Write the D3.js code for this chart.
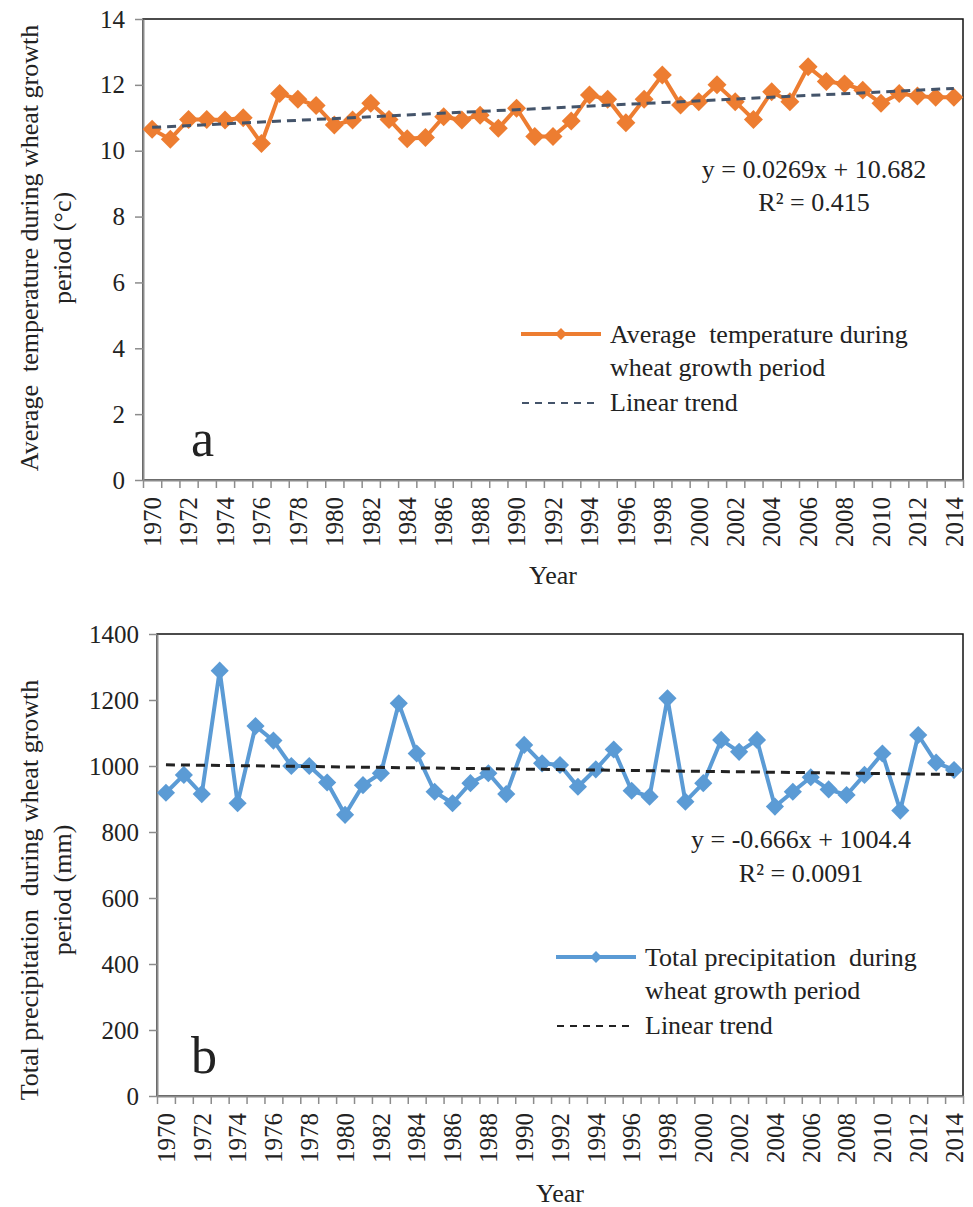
<!DOCTYPE html>
<html>
<head>
<meta charset="utf-8">
<script src="https://cdn.jsdelivr.net/npm/d3@7"></script>
<style>
  body { margin: 0; background: #fff; }
  svg text { font-family: "Liberation Serif", "Times New Roman", serif; fill: #222; }
</style>
</head>
<body>
<div id="chart"></div>
<script>
const FONT = '"Liberation Serif", "Times New Roman", serif';

// categories
const years = [1970, 1971, 1972, 1973, 1974, 1975, 1976, 1977, 1978, 1979,
               1980, 1981, 1982, 1983, 1984, 1985, 1986, 1987, 1988, 1989,
               1990, 1991, 1992, 1993, 1994, 1995, 1996, 1997, 1998, 1999,
               2000, 2001, 2002, 2003, 2004, 2005, 2006, 2007, 2008, 2009,
               2010, 2011, 2012, 2013, 2014];

// series
const temperature = [10.65, 10.35, 10.95, 10.95, 10.93, 11.0, 10.22, 11.74, 11.56, 11.37,
                     10.78, 10.93, 11.44, 10.95, 10.36, 10.4, 11.03, 10.93, 11.08, 10.68,
                     11.29, 10.43, 10.43, 10.9, 11.69, 11.56, 10.85, 11.56, 12.3, 11.39,
                     11.49, 12.0, 11.49, 10.95, 11.79, 11.49, 12.55, 12.1, 12.03, 11.84,
                     11.44, 11.74, 11.66, 11.62, 11.62];

const precipitation = [919, 973, 915, 1289, 887, 1121, 1077, 1000, 1000, 950,
                       852, 942, 978, 1190, 1038, 922, 887, 948, 978, 915,
                       1064, 1008, 1003, 937, 990, 1050, 925, 907, 1205, 892,
                       948, 1079, 1043, 1079, 877, 922, 966, 929, 912, 973,
                       1038, 865, 1094, 1010, 988];

// trend equations shown on the chart (x = 1..45)
const tempTrend = { slope: 0.0269, intercept: 10.682 };
const precTrend = { slope: -0.666, intercept: 1004.4 };

// tick labels
const tempTicks = [0, 2, 4, 6, 8, 10, 12, 14];
const precTicks = [0, 200, 400, 600, 800, 1000, 1200, 1400];
const labelYears = years.filter(d => d % 2 === 0);

const svg = d3.select("#chart").append("svg")
    .attr("width", 973)
    .attr("height", 1207)
    .attr("font-family", FONT);

function drawPanel(opt) {
    const g = svg.append("g");
    const { left, right, top, bottom } = opt;

    const x = d3.scaleBand().domain(years).range([left, right]).padding(0);
    const xEdge = d3.scaleLinear().domain([0, years.length]).range([left, right]);
    const y = d3.scaleLinear().domain(opt.domain).range([bottom, top]);

    // plot border (black top/right)
    g.append("rect")
        .attr("x", left).attr("y", top)
        .attr("width", right - left).attr("height", bottom - top)
        .attr("fill", "none")
        .attr("stroke", "#111")
        .attr("stroke-width", 1.5);

    // y axis
    const yAxis = g.append("g")
        .attr("transform", `translate(${left},0)`)
        .call(d3.axisLeft(y).tickValues(opt.ticks).tickFormat(d3.format("d"))
            .tickSize(8).tickPadding(10).tickSizeOuter(0));
    yAxis.attr("font-family", FONT);
    yAxis.select(".domain").attr("stroke", "#8c8c8c").attr("stroke-width", 2);
    yAxis.selectAll(".tick line").attr("stroke", "#8c8c8c").attr("stroke-width", 1.5);
    yAxis.selectAll("text")
        .style("font-family", FONT)
        .style("font-size", "25px")
        .attr("fill", "#222");

    // x tick marks at category boundaries
    const xTicks = g.append("g")
        .attr("transform", `translate(0,${bottom})`)
        .call(d3.axisBottom(xEdge).tickValues(d3.range(0, years.length + 1))
            .tickSize(8).tickFormat("").tickSizeOuter(0));
    xTicks.select(".domain").attr("stroke", "#8c8c8c").attr("stroke-width", 2);
    xTicks.selectAll(".tick line").attr("stroke", "#8c8c8c").attr("stroke-width", 1.5);

    // x labels (every other year, rotated)
    const xAxis = g.append("g")
        .attr("transform", `translate(0,${bottom})`)
        .call(d3.axisBottom(x).tickValues(labelYears).tickFormat(d3.format("d")).tickSize(0));
    xAxis.attr("font-family", FONT);
    xAxis.select(".domain").remove();
    xAxis.selectAll("text")
        .style("font-family", FONT)
        .style("font-size", "25px")
        .attr("fill", "#222")
        .attr("transform", "rotate(-90)")
        .attr("text-anchor", "end")
        .attr("x", -17)
        .attr("y", 0)
        .attr("dy", "0.35em");

    // axis titles
    g.append("text")
        .attr("x", (left + right) / 2)
        .attr("y", opt.yearY)
        .attr("text-anchor", "middle")
        .style("font-size", "26px")
        .text("Year");

    const cy = opt.titleCenter;
    opt.yTitle.forEach((line, i) => {
        g.append("text")
            .attr("transform", `translate(${opt.titleX[i]},${cy}) rotate(-90)`)
            .attr("text-anchor", "middle")
            .style("font-size", "26px")
            .style("white-space", "pre")
            .text(line);
    });

    const n = years.length;
    const cx = d => x(d) + x.bandwidth() / 2;

    // series line
    const line = d3.line()
        .x((d, i) => cx(years[i]))
        .y(d => y(d));
    g.append("path")
        .datum(opt.values)
        .attr("fill", "none")
        .attr("stroke", opt.color)
        .attr("stroke-width", 4)
        .attr("stroke-linejoin", "round")
        .attr("d", line);

    g.selectAll(".pt")
        .data(opt.values)
        .join("path")
        .attr("class", "pt")
        .attr("d", d3.symbol(d3.symbolSquare).size(opt.markerSize))
        .attr("fill", opt.color)
        .attr("transform", (d, i) => `translate(${cx(years[i])},${y(d)}) rotate(45)`);

    // trend line from the fitted equation
    const trendPts = [
        [years[0], opt.trend.slope * 1 + opt.trend.intercept],
        [years[n - 1], opt.trend.slope * n + opt.trend.intercept]
    ];
    g.append("path")
        .datum(trendPts)
        .attr("fill", "none")
        .attr("stroke", opt.trendColor)
        .attr("stroke-width", 3)
        .attr("stroke-dasharray", "9,6")
        .attr("d", d3.line().x(d => cx(d[0])).y(d => y(d[1])));

    // equation
    opt.equation.forEach((t, i) => {
        g.append("text")
            .attr("x", opt.eqX)
            .attr("y", opt.eqY[i])
            .attr("text-anchor", "middle")
            .style("font-size", "26px")
            .style("white-space", "pre")
            .text(t);
    });

    // panel letter
    g.append("text")
        .attr("x", 191)
        .attr("y", opt.letterY)
        .style("font-size", "52px")
        .text(opt.letter);

    // legend
    const lg = g.append("g").attr("transform", `translate(${opt.legendX},${opt.legendY})`);
    lg.append("line")
        .attr("x1", 0).attr("x2", 80).attr("y1", 0).attr("y2", 0)
        .attr("stroke", opt.color).attr("stroke-width", 4);
    lg.append("path")
        .attr("d", d3.symbol(d3.symbolSquare).size(70))
        .attr("fill", opt.color)
        .attr("transform", "translate(40,0) rotate(45)");
    opt.legendText.forEach((t, i) => {
        lg.append("text")
            .attr("x", 89)
            .attr("y", 9 + i * 33)
            .style("font-size", "26px")
            .style("white-space", "pre")
            .text(t);
    });
    lg.append("line")
        .attr("x1", 1).attr("x2", 74).attr("y1", 69).attr("y2", 69)
        .attr("stroke", opt.trendColor).attr("stroke-width", 2)
        .attr("stroke-dasharray", "7,6");
    lg.append("text")
        .attr("x", 89)
        .attr("y", 77)
        .style("font-size", "26px")
        .text("Linear trend");
}

drawPanel({
    left: 143, right: 963, top: 19, bottom: 480,
    domain: [0, 14], ticks: tempTicks,
    values: temperature, color: "#ED7D31", markerSize: 180,
    trend: tempTrend, trendColor: "#44546A",
    yTitle: ["Average  temperature during wheat growth", "period (\u00B0c)"],
    titleX: [38, 71], titleCenter: 248,
    yearY: 584,
    equation: ["y = 0.0269x + 10.682", "R\u00B2 = 0.415"],
    eqX: 814, eqY: [178, 211],
    letter: "a", letterY: 456,
    legendX: 521, legendY: 334,
    legendText: ["Average  temperature during", "wheat growth period"]
});

drawPanel({
    left: 157, right: 963, top: 634, bottom: 1096,
    domain: [0, 1400], ticks: precTicks,
    values: precipitation, color: "#5B9BD5", markerSize: 165,
    trend: precTrend, trendColor: "#222",
    yTitle: ["Total precipitation  during wheat growth", "period (mm)"],
    titleX: [38, 71], titleCenter: 890,
    yearY: 1202,
    equation: ["y = -0.666x + 1004.4", "R\u00B2 = 0.0091"],
    eqX: 801, eqY: [848, 882],
    letter: "b", letterY: 1073,
    legendX: 556, legendY: 957,
    legendText: ["Total precipitation  during", "wheat growth period"]
});
</script>
</body>
</html>
